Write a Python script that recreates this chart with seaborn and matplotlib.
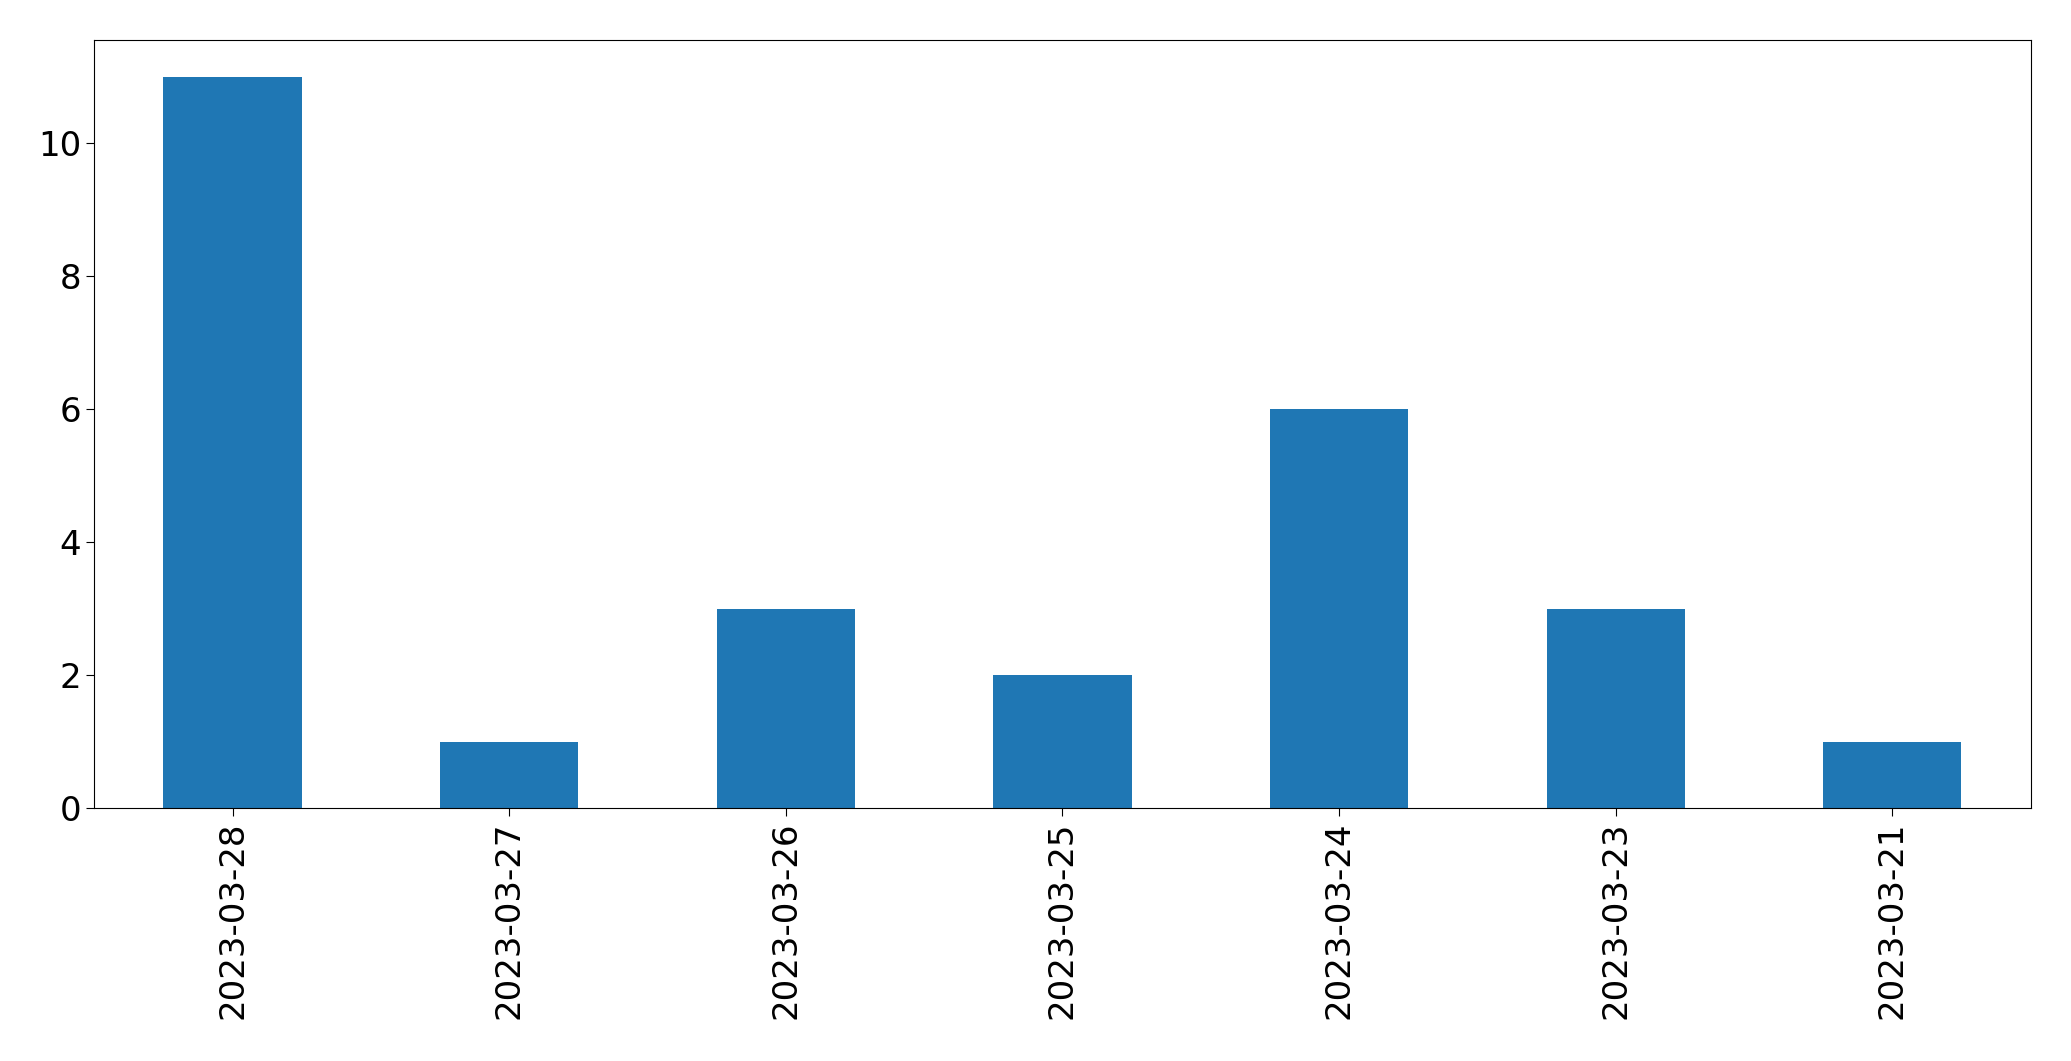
import matplotlib
matplotlib.use("Agg")
import matplotlib.pyplot as plt
import seaborn as sns
import pandas as pd

# --- DATA
dates = ["2023-03-28", "2023-03-27", "2023-03-26", "2023-03-25",
         "2023-03-24", "2023-03-23", "2023-03-21"]
counts = [11, 1, 3, 2, 6, 3, 1]

df = pd.DataFrame({"date": dates, "count": counts})

# --- PLOT
fig, ax = plt.subplots(figsize=(20.71, 10.61), dpi=100)
sns.barplot(data=df, x="date", y="count", color="#1f77b4",
            saturation=1, width=0.5, ax=ax)

ax.set_xlim(-0.5, len(dates) - 0.5)
ax.set_ylim(0, max(counts) * 1.05)
ax.set_xlabel("")
ax.set_ylabel("")
ax.tick_params(axis="both", labelsize=24.5, length=6)
plt.xticks(rotation=90)

plt.subplots_adjust(left=0.0455, right=0.9805, top=0.962, bottom=0.238)
plt.savefig("out.png", dpi=100)
